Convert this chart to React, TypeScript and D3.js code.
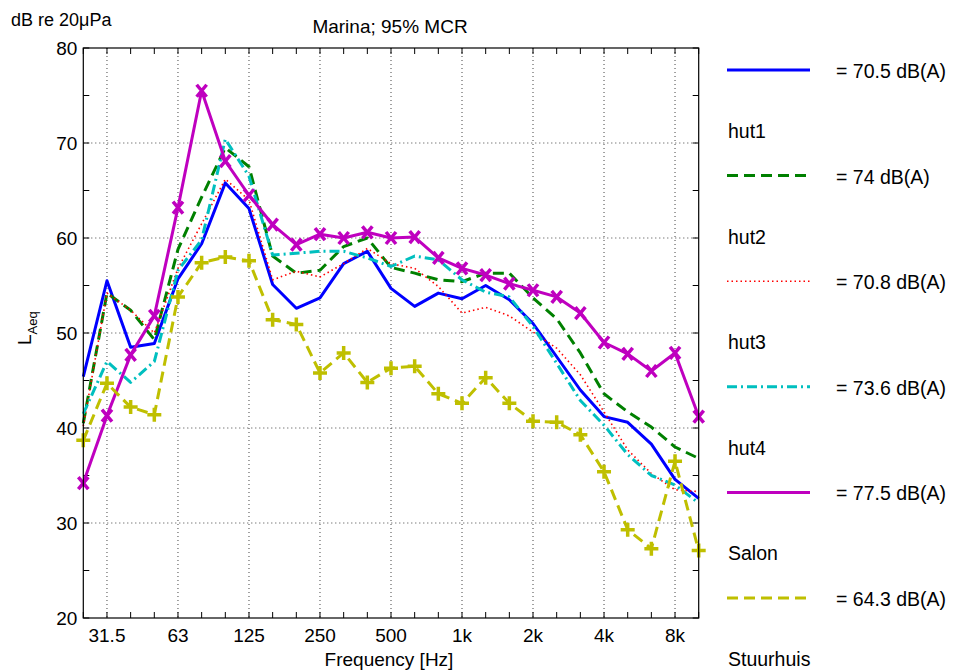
import React from "react";
import * as d3 from "d3";

const bands = ["25","31.5","40","50","63","80","100","125","160","200","250","315","400","500","630","800","1k","1.25k","1.6k","2k","2.5k","3.15k","4k","5k","6.3k","8k","10k"];
const octaveIdx = [1, 4, 7, 10, 13, 16, 19, 22, 25];
const octaveLabels = ["31.5", "63", "125", "250", "500", "1k", "2k", "4k", "8k"];
const yTicks = [20, 30, 40, 50, 60, 70, 80];

const hut1 = [45.4, 55.5, 48.5, 48.9, 55.7, 59.4, 65.8, 63.1, 55.1, 52.6, 53.7, 57.3, 58.6, 54.7, 52.8, 54.2, 53.6, 55.0, 53.5, 51.0, 47.5, 44.0, 41.2, 40.6, 38.3, 34.6, 32.6];
const hut2 = [40.5, 54.2, 52.4, 49.3, 58.8, 64.3, 69.5, 67.5, 58.1, 56.3, 56.6, 59.1, 60.0, 56.9, 56.3, 55.6, 55.4, 56.3, 56.3, 53.7, 51.5, 47.9, 43.6, 41.7, 40.1, 38.0, 36.8];
const hut3 = [40.2, 54.2, 52.4, 50.0, 56.8, 61.5, 66.2, 64.0, 55.6, 56.5, 55.9, 57.3, 58.9, 57.3, 56.8, 54.9, 52.1, 52.7, 51.8, 50.1, 48.4, 45.6, 41.7, 37.7, 35.2, 33.5, 33.3];
const hut4 = [41.5, 47.0, 44.8, 47.0, 56.6, 59.8, 70.4, 66.5, 58.2, 58.4, 58.6, 58.6, 57.9, 57.0, 58.1, 57.7, 55.6, 54.3, 53.8, 50.7, 46.8, 42.9, 40.3, 37.2, 35.0, 34.0, 32.1];
const salon = [34.2, 41.3, 47.7, 51.8, 63.2, 75.5, 68.1, 64.5, 61.4, 59.3, 60.4, 60.0, 60.6, 60.0, 60.1, 57.9, 56.8, 56.1, 55.2, 54.5, 53.8, 52.1, 49.0, 47.8, 46.0, 47.9, 41.2];
const stuurhuis = [38.7, 44.7, 42.2, 41.4, 53.8, 57.4, 58.0, 57.6, 51.4, 50.9, 45.8, 47.9, 44.8, 46.3, 46.5, 43.6, 42.6, 45.3, 42.6, 40.7, 40.6, 39.3, 35.4, 29.3, 27.3, 36.5, 27.1];

const names = ["hut1", "hut2", "hut3", "hut4", "Salon", "Stuurhuis"];
const levels = ["= 70.5 dB(A)", "= 74 dB(A)", "= 70.8 dB(A)", "= 73.6 dB(A)", "= 77.5 dB(A)", "= 64.3 dB(A)"];

const seriesList = [
  { data: hut1, color: "#0000ff", dash: "", width: 3, marker: "" },
  { data: hut2, color: "#008000", dash: "11,6", width: 3, marker: "" },
  { data: hut3, color: "#ff0000", dash: "1.5,3", width: 1.6, marker: "" },
  { data: hut4, color: "#00bfbf", dash: "10,4,2,4", width: 3, marker: "" },
  { data: salon, color: "#bf00bf", dash: "", width: 3, marker: "x" },
  { data: stuurhuis, color: "#bfbf00", dash: "11,6", width: 3, marker: "+" },
];

const W = 956, H = 671;
const L = 83.3, R = 698.7, T = 48, B = 618;
const font = "'Liberation Sans', Arial, sans-serif";

export default function App() {
  const x = d3.scaleLinear().domain([0, bands.length - 1]).range([L, R]);
  const y = d3.scaleLinear().domain([20, 80]).range([B, T]);
  const line = d3.line<number>().x((_, i) => x(i)).y((v) => y(v));
  const minorY = d3.range(20, 80.1, 5);
  const legendY = (k: number) => 70 + k * 105.6;

  return (
    <svg width={W} height={H} style={{ position: "absolute", left: 0, top: 0, background: "#fff" }} fontFamily={font}>
      <rect x={0} y={0} width={W} height={H} fill="#fff" />
      {/* grid */}
      {yTicks.slice(1, -1).map((t) => (
        <line key={"gy" + t} x1={L} x2={R} y1={y(t)} y2={y(t)} stroke="#444" strokeWidth={1} strokeDasharray="1,3" />
      ))}
      {octaveIdx.map((i) => (
        <line key={"gx" + i} x1={x(i)} x2={x(i)} y1={T} y2={B} stroke="#444" strokeWidth={1} strokeDasharray="1,3" />
      ))}
      {/* ticks */}
      {bands.map((_, i) => (
        <g key={"tx" + i}>
          <line x1={x(i)} x2={x(i)} y1={B} y2={B - 6} stroke="#000" />
          <line x1={x(i)} x2={x(i)} y1={T} y2={T + 6} stroke="#000" />
        </g>
      ))}
      {minorY.map((t) => (
        <g key={"ty" + t}>
          <line x1={L} x2={L + 6} y1={y(t)} y2={y(t)} stroke="#000" />
          <line x1={R} x2={R - 6} y1={y(t)} y2={y(t)} stroke="#000" />
        </g>
      ))}
      {/* series */}
      {seriesList.map((s, k) => (
        <g key={"s" + k}>
          <path d={line(s.data) || ""} fill="none" stroke={s.color} strokeWidth={s.width} strokeDasharray={s.dash} strokeLinejoin="round" />
          {s.marker === "x" &&
            s.data.map((v, i) => (
              <path key={i} d={`M${x(i) - 5},${y(v) - 6}L${x(i) + 5},${y(v) + 6}M${x(i) - 5},${y(v) + 6}L${x(i) + 5},${y(v) - 6}`} stroke={s.color} strokeWidth={3.5} fill="none" />
            ))}
          {s.marker === "+" &&
            s.data.map((v, i) => (
              <path key={i} d={`M${x(i) - 7},${y(v)}L${x(i) + 7},${y(v)}M${x(i)},${y(v) - 7}L${x(i)},${y(v) + 7}`} stroke={s.color} strokeWidth={3.5} fill="none" />
            ))}
        </g>
      ))}
      {/* frame */}
      <rect x={L} y={T} width={R - L} height={B - T} fill="none" stroke="#000" strokeWidth={1.2} />
      {/* tick labels */}
      {octaveIdx.map((i, k) => (
        <text key={"xl" + i} x={x(i)} y={B + 24} textAnchor="middle" fontSize={19}>{octaveLabels[k]}</text>
      ))}
      {yTicks.map((t) => (
        <text key={"yl" + t} x={L - 6} y={y(t) + 7} textAnchor="end" fontSize={19}>{t}</text>
      ))}
      {/* labels */}
      <text x={390} y={33} textAnchor="middle" fontSize={19}>Marina; 95% MCR</text>
      <text x={11} y={26} fontSize={18}>dB re 20μPa</text>
      <text x={389} y={666} textAnchor="middle" fontSize={19}>Frequency [Hz]</text>
      <text transform={`translate(31,345) rotate(-90)`} textAnchor="start" fontSize={19}>
        L<tspan fontSize={13} dy={6}>Aeq</tspan>
      </text>
      {/* legend */}
      {seriesList.map((s, k) => (
        <g key={"lg" + k}>
          <line x1={727} x2={810} y1={legendY(k)} y2={legendY(k)} stroke={s.color} strokeWidth={s.width} strokeDasharray={s.dash} />
          <text x={836} y={legendY(k) + 8} fontSize={19.5}>{levels[k]}</text>
          <text x={728} y={legendY(k) + 68} fontSize={19.5}>{names[k]}</text>
        </g>
      ))}
    </svg>
  );
}
